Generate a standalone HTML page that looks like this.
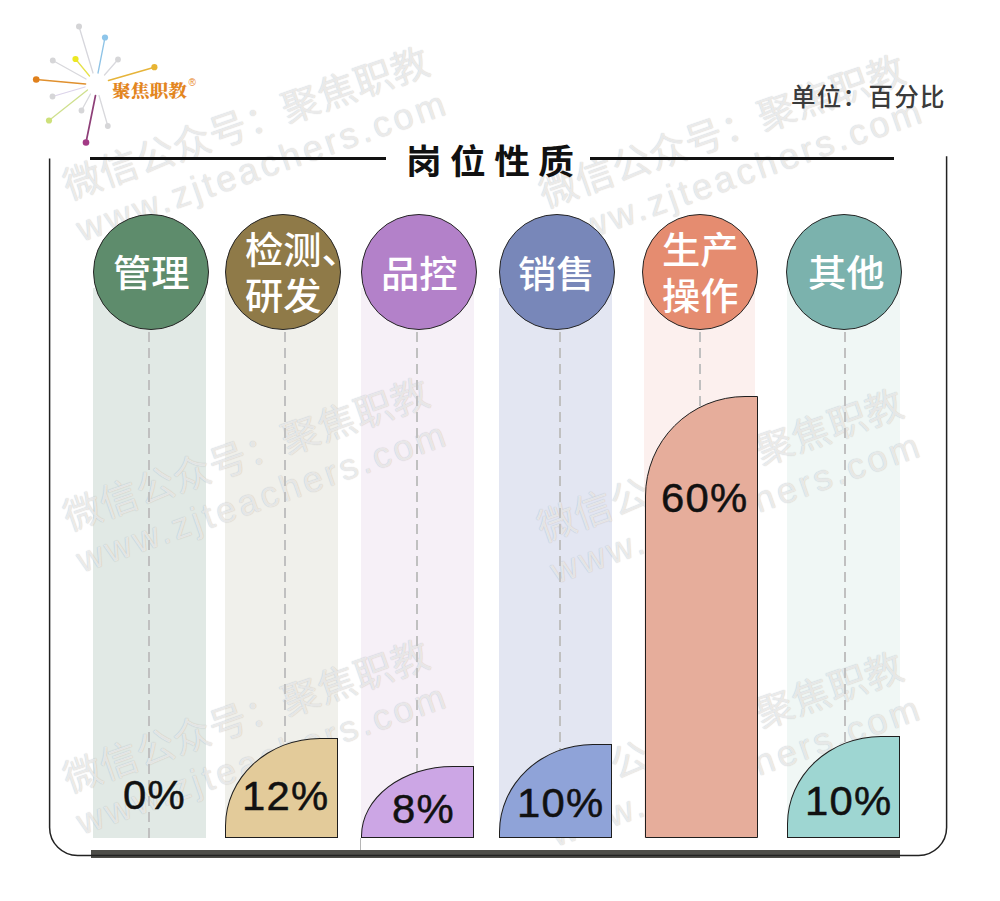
<!DOCTYPE html>
<html lang="zh-CN">
<head>
<meta charset="utf-8">
<style>
html,body{margin:0;padding:0;background:#fff;}
body{width:1000px;height:901px;position:relative;overflow:hidden;font-family:"Liberation Sans","Noto Sans CJK SC",sans-serif;}
.abs{position:absolute;z-index:2;}
.tline,.title,.unit,.shape,.pct,.circ,.ct,.bar{z-index:2;}
.tline{position:absolute;height:3px;background:#111;top:157px;}
.title{position:absolute;left:405.8px;top:139.5px;font-family:"Liberation Sans","Noto Sans CJK SC",sans-serif;font-weight:700;font-size:34px;letter-spacing:8px;transform:scaleX(1.05);transform-origin:0 0;color:#111;line-height:44px;white-space:nowrap;}
.unit{position:absolute;left:791px;top:81px;font-family:"Liberation Sans","Noto Sans CJK SC",sans-serif;font-weight:500;font-size:24.5px;letter-spacing:1.3px;color:#3b3b3b;line-height:34px;white-space:nowrap;}
.col{position:absolute;top:288px;height:550px;width:113px;}
.dash{position:absolute;z-index:2;top:332px;height:506px;width:2px;background:repeating-linear-gradient(to bottom,#c0c0c0 0 10px,transparent 10px 16px);}
.circ{position:absolute;top:214px;width:114px;height:114px;border:1px solid #262626;border-radius:50%;}
.ct{position:absolute;color:#fff;font-family:"Liberation Sans","Noto Sans CJK SC",sans-serif;font-weight:500;font-size:37px;line-height:46px;white-space:nowrap;transform:scaleX(1.035);transform-origin:0 0;}
.shape{position:absolute;border:1px solid #1e1e1e;box-sizing:border-box;}
.pct{position:absolute;font-family:"Liberation Sans",sans-serif;font-size:41px;line-height:41px;letter-spacing:1.2px;transform:scaleX(1.02);transform-origin:0 0;-webkit-text-stroke:0.5px #111;color:#111;white-space:nowrap;}
.bar{position:absolute;left:91px;top:850px;width:809px;height:8px;background:#4d4d49;}
.wm{position:absolute;color:rgba(255,255,255,0.7);text-shadow:0 0 1px rgba(0,0,0,0.27);font-family:"Liberation Sans","Noto Sans CJK SC",sans-serif;font-weight:400;white-space:nowrap;transform-origin:0 0;pointer-events:none;z-index:1;}
.wm .l1{position:relative;top:3.2px;font-size:38px;line-height:42px;letter-spacing:0.5px;}
.wm .l2{font-family:"Liberation Sans",sans-serif;font-size:36px;line-height:40px;letter-spacing:3.5px;margin-left:-2px;margin-top:7px;}
</style>
</head>
<body>

<!-- logo -->
<svg class="abs" style="left:0;top:0" width="210" height="160" viewBox="0 0 210 160">
  <g stroke-width="1.3" stroke-linecap="round">
    <line x1="79" y1="26.5" x2="93" y2="73" stroke="#d6d6dc"/>
    <line x1="105" y1="37.5" x2="98" y2="73" stroke="#8ec3e6"/>
    <line x1="118" y1="59.5" x2="104.5" y2="75" stroke="#d9d9de"/>
    <line x1="75.5" y1="59" x2="89.5" y2="76" stroke="#e6e24a"/>
    <line x1="52.8" y1="60.5" x2="86" y2="79" stroke="#d8d8dc"/>
    <line x1="36.2" y1="79.5" x2="85.5" y2="84" stroke="#e0902e" stroke-width="1.7"/>
    <line x1="154.4" y1="67.2" x2="108.5" y2="80.5" stroke="#e6b43a" stroke-width="1.5"/>
    <line x1="52.5" y1="96.5" x2="85" y2="87" stroke="#dcd4ea"/>
    <line x1="49" y1="120.5" x2="87.5" y2="90" stroke="#cfe08e"/>
    <line x1="81.5" y1="110.5" x2="90.5" y2="94" stroke="#d8d8dc"/>
    <line x1="86" y1="142.5" x2="95.5" y2="95.5" stroke="#8e3f78" stroke-width="1.7"/>
    <line x1="107.8" y1="126" x2="99" y2="95.5" stroke="#d8d8dc"/>
  </g>
  <g>
    <circle cx="79" cy="26.5" r="3.0" fill="#d4d4d6"/>
    <circle cx="105" cy="37.5" r="3.1" fill="#8dc5ea"/>
    <circle cx="118" cy="59.5" r="2.9" fill="#d6d6d8"/>
    <circle cx="75.5" cy="59" r="3.1" fill="#ece823"/>
    <circle cx="52.8" cy="60.5" r="2.9" fill="#d6d6d8"/>
    <circle cx="36.2" cy="79.5" r="3.3" fill="#e0801c"/>
    <circle cx="154.4" cy="67.2" r="3.1" fill="#e8b433"/>
    <circle cx="52.5" cy="96.5" r="2.9" fill="#d6d6d8"/>
    <circle cx="49" cy="120.5" r="3.1" fill="#cde07a"/>
    <circle cx="81.5" cy="110.5" r="2.9" fill="#d6d6d8"/>
    <circle cx="86" cy="142.5" r="3.3" fill="#a33a86"/>
    <circle cx="107.8" cy="126" r="2.9" fill="#d6d6d8"/>
  </g>
</svg>
<div class="abs" style="left:112px;top:78px;font-family:'Liberation Serif','Noto Serif CJK SC',serif;font-weight:900;font-size:17.5px;line-height:26px;color:#e3861f;white-space:nowrap;transform:scaleX(1.07);transform-origin:0 0;">聚焦职教</div>
<div class="abs" style="left:188.5px;top:78px;font-family:'Liberation Sans',sans-serif;font-size:10px;line-height:10px;color:#e8861e;">®</div>

<div class="unit">单位：百分比</div>

<!-- frame -->
<svg class="abs" style="left:0;top:0;z-index:3" width="1000" height="901" viewBox="0 0 1000 901"><path d="M49.6 158.5 V827.5 A28 28 0 0 0 77.6 855.5 H918.6 A28 28 0 0 0 946.6 827.5 V156.3" fill="none" stroke="#222" stroke-width="1.5"/></svg>
<div class="tline" style="left:90px;width:296px;"></div>
<div class="tline" style="left:590px;width:304px;"></div>
<div class="title">岗位性质</div>

<!-- columns -->
<div class="col" style="left:93px;background:#e1e9e5;"></div>
<div class="col" style="left:225px;background:#f0f0eb;"></div>
<div class="col" style="left:361px;background:#f6f0f7;"></div>
<div class="col" style="left:499px;background:#e3e6f2;"></div>
<div class="col" style="left:643.5px;width:111.5px;background:#fcf0ee;"></div>
<div class="col" style="left:787px;background:#f0f7f5;"></div>

<div class="dash" style="left:148px;"></div>
<div class="dash" style="left:284px;"></div>
<div class="dash" style="left:416px;"></div>
<div class="dash" style="left:559px;"></div>
<div class="dash" style="left:699px;"></div>
<div class="dash" style="left:844px;"></div>

<!-- watermarks -->
<div class="wm" style="left:57px;top:165px;transform:rotate(-19.3deg);"><div class="l1">微信公众号：聚焦职教</div><div class="l2">www.zjteachers.com</div></div>
<div class="wm" style="left:57px;top:496px;transform:rotate(-19.3deg);"><div class="l1">微信公众号：聚焦职教</div><div class="l2">www.zjteachers.com</div></div>
<div class="wm" style="left:57px;top:758px;transform:rotate(-19.3deg);"><div class="l1">微信公众号：聚焦职教</div><div class="l2">www.zjteachers.com</div></div>
<div class="wm" style="left:533px;top:173px;transform:rotate(-19.3deg);"><div class="l1">微信公众号：聚焦职教</div><div class="l2">www.zjteachers.com</div></div>
<div class="wm" style="left:531px;top:507px;transform:rotate(-19.3deg);"><div class="l1">微信公众号：聚焦职教</div><div class="l2">www.zjteachers.com</div></div>
<div class="wm" style="left:531px;top:770px;transform:rotate(-19.3deg);"><div class="l1">微信公众号：聚焦职教</div><div class="l2">www.zjteachers.com</div></div>

<!-- shapes -->
<div class="shape" style="left:225px;top:738px;width:113px;height:100px;background:#e3cb9a;border-top-left-radius:95px 88px;"></div>
<div class="shape" style="left:361px;top:766px;width:113px;height:72px;background:#cca6e5;border-top-left-radius:92px 70px;"></div>
<div class="shape" style="left:499px;top:744px;width:113px;height:94px;background:#8fa3d8;border-top-left-radius:94px 88px;"></div>
<div class="shape" style="left:645px;top:396px;width:113px;height:442px;background:#e6ad9b;border-top-left-radius:100px 100px;"></div>
<div class="shape" style="left:787px;top:736px;width:113px;height:102px;background:#9ed6d2;border-top-left-radius:94px 88px;"></div>

<div class="pct" style="left:123px;top:775px;">0%</div>
<div class="pct" style="left:242px;top:776px;">12%</div>
<div class="pct" style="left:391.5px;top:789px;">8%</div>
<div class="pct" style="left:517px;top:783px;">10%</div>
<div class="pct" style="left:661px;top:478px;">60%</div>
<div class="pct" style="left:805px;top:781px;">10%</div>

<!-- circles -->
<div class="circ" style="left:93px;background:#5e8c6c;"></div>
<div class="circ" style="left:225px;background:#8f7a48;"></div>
<div class="circ" style="left:361px;background:#b381c9;"></div>
<div class="circ" style="left:499px;background:#7887b9;"></div>
<div class="circ" style="left:642px;background:#e58c70;"></div>
<div class="circ" style="left:786px;background:#7bb2ad;"></div>

<div class="ct" style="left:112.8px;top:251.8px;">管理</div>
<div class="ct" style="left:244.5px;top:229px;">检测、<br>研发</div>
<div class="ct" style="left:380.6px;top:252.5px;">品控</div>
<div class="ct" style="left:518px;top:252.8px;">销售</div>
<div class="ct" style="left:662.2px;top:229px;">生产<br>操作</div>
<div class="ct" style="left:807.6px;top:252px;">其他</div>

<div class="bar"></div>
<div class="abs" style="left:360px;top:838px;width:1px;height:12px;background:#b5b5b5;"></div>

</body>
</html>
